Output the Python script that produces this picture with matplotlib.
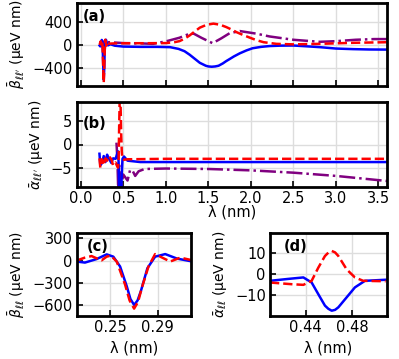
import matplotlib
matplotlib.use("Agg")
import matplotlib.pyplot as plt

# panel (a): beta vs lambda, wide range
lam_a_blue = [0.2218, 0.2289, 0.2388, 0.2472, 0.2528, 0.2585, 0.2641, 0.2703, 0.2760, 0.2815,
              0.288, 0.2965, 0.3064, 0.32, 0.35, 0.4, 0.5, 0.7, 0.9, 1.05, 1.15, 1.22, 1.28,
              1.34, 1.4, 1.47, 1.5, 1.54, 1.58, 1.62, 1.67, 1.71, 1.75, 1.8, 1.87, 1.95,
              2.02, 2.12, 2.22, 2.35, 2.5, 2.65, 2.81, 3.0, 3.2, 3.39, 3.6]
beta_a_blue = [-13, -27, 21, 84, 53, -80, -347, -600, -413, -103,
               53, 88, 27, -9, 10, -15, -30, -35, -35, -40, -70, -110, -170,
               -240, -310, -360, -372, -377, -372, -360, -320, -280, -245, -200, -146, -95,
               -59, -35, -21, -14, -12, -25, -40, -64, -74, -80, -82]
lam_a_red = [0.2218, 0.2289, 0.2345, 0.2401, 0.243, 0.2472, 0.2506, 0.2557, 0.2627, 0.2703,
             0.2768, 0.2824, 0.288, 0.2951, 0.3007, 0.3092, 0.32, 0.4, 0.6, 0.8, 1.0, 1.1,
             1.16, 1.22, 1.28, 1.34, 1.4, 1.48, 1.56, 1.64, 1.71, 1.77, 1.83, 1.91, 1.99,
             2.07, 2.15, 2.3, 2.5, 2.81, 3.2, 3.6]
beta_a_red = [0, 40, 61, 21, 4, 53, 67, -13, -325, -650,
              -369, -80, 88, 31, -13, 40, 20, 25, 28, 28, 30, 45,
              63, 105, 162, 230, 296, 345, 365, 345, 306, 265, 219, 168, 122,
              78, 45, 17, 8, 17, 35, 45]
lam_a_purple = [0.225, 0.24, 0.25, 0.26, 0.27, 0.28, 0.29, 0.31, 0.34, 0.5, 0.7, 0.85, 1.01,
                1.16, 1.28, 1.33, 1.42, 1.55, 1.65, 1.75, 1.87, 2.07, 2.22, 2.5, 2.81, 3.0,
                3.23, 3.45, 3.6]
beta_a_purple = [30, 55, 10, 60, -10, 50, 20, 45, 45, 30, 25, 17, 63,
                 122, 191, 191, 120, 28, 110, 200, 237, 191, 144, 87, 52, 63,
                 87, 99, 99]

# panel (b): alpha vs lambda, wide range
lam_b_blue = [0.22, 0.23, 0.25, 0.27, 0.29, 0.31, 0.33, 0.36, 0.38, 0.4094, 0.425, 0.438,
              0.4451, 0.4508, 0.4565, 0.4594, 0.4623, 0.4652, 0.468, 0.4751, 0.4822, 0.4908,
              0.5085, 0.55, 0.7, 1.0, 2.0, 3.0, 3.6]
alpha_b_blue = [-2.0, -4.5, -4.0, -2.5, -3.8, -2.2, -3.0, -4.0, -3.0, -3.1, -2.2, -1.5,
                -3.9, -9.4, -14.8, -16.3, -17.2, -16.8, -15.6, -10.9, -6.2, -3.1,
                -2.6, -3.5, -3.8, -3.8, -3.8, -3.8, -3.8]
lam_b_red = [0.22, 0.23, 0.25, 0.27, 0.29, 0.31, 0.33, 0.36, 0.38, 0.4094, 0.428, 0.438,
             0.4451, 0.4508, 0.4565, 0.4594, 0.4623, 0.4652, 0.468, 0.4751, 0.4822, 0.4893,
             0.5085, 0.55, 1.0, 2.0, 3.0, 3.6]
alpha_b_red = [-3.0, -5.0, -3.2, -4.5, -3.0, -3.5, -2.5, -3.2, -4.5, -3.9, -4.7, -5.0,
               -3.1, 3.1, 8.6, 10.2, 11.0, 10.3, 8.6, 2.3, -1.5, -3.1,
               -3.3, -3.2, -3.1, -3.1, -3.1, -3.1]
lam_b_purple = [0.42, 0.43, 0.44, 0.45, 0.47, 0.5, 0.55, 0.58, 0.61, 0.64, 0.68, 0.75,
                1.0, 1.5, 2.0, 2.5, 3.0, 3.6]
alpha_b_purple = [0.4, -3.0, -9.5, -4.0, -9.5, -6.5, -7.8, -5.5, -5.7, -6.8, -5.8, -5.3,
                  -5.2, -5.3, -5.6, -6.1, -6.8, -7.9]

# panel (c): zoom of beta near 0.27 nm
lam_c_blue = [0.2218, 0.2289, 0.2388, 0.2472, 0.2528, 0.2585, 0.2641, 0.2672, 0.2703, 0.2732,
              0.2760, 0.2815, 0.288, 0.2965, 0.3064, 0.3182]
beta_c_blue = [-13, -27, 21, 84, 53, -80, -347, -520, -600, -540, -413, -103, 53, 88, 27, -9]
lam_c_red = [0.2218, 0.2289, 0.2345, 0.2401, 0.243, 0.2472, 0.2506, 0.2557, 0.2627, 0.2665,
             0.2703, 0.2736, 0.2768, 0.2824, 0.288, 0.2951, 0.3007, 0.3092, 0.3182]
beta_c_red = [0, 40, 61, 21, 4, 53, 67, -13, -325, -540, -650, -560,
              -369, -80, 88, 31, -13, 40, 8]

# panel (d): zoom of alpha near 0.46 nm
lam_d_blue = [0.4094, 0.425, 0.438, 0.4451, 0.4508, 0.4565, 0.4594, 0.4623, 0.4652, 0.468,
              0.4751, 0.4822, 0.4908, 0.5085]
alpha_d_blue = [-3.1, -2.2, -1.5, -3.9, -9.4, -14.8, -16.3, -17.2, -16.8, -15.6, -10.9,
                -6.2, -3.1, -2.6]
lam_d_red = [0.4094, 0.428, 0.438, 0.4451, 0.4508, 0.4565, 0.4594, 0.4623, 0.4652, 0.468,
             0.4751, 0.4822, 0.4893, 0.5085]
alpha_d_red = [-3.9, -4.7, -5.0, -3.1, 3.1, 8.6, 10.2, 11.0, 10.3, 8.6, 2.3, -1.5, -3.1, -3.3]

plt.rcParams['font.size'] = 10.5
plt.rcParams['axes.linewidth'] = 2.0

fig = plt.figure(figsize=(3.99, 3.59), dpi=100)

W, H = 399.0, 359.0


def box(left, top, right, bottom):
    return [left / W, 1 - bottom / H, (right - left) / W, (bottom - top) / H]


ax_a = fig.add_axes(box(76.5, 3, 387, 85.5))
ax_b = fig.add_axes(box(76.5, 102, 387, 187))
ax_c = fig.add_axes(box(76.5, 232.5, 191, 316))
ax_d = fig.add_axes(box(270, 232.5, 387, 316))

lw = 1.8

ax_a.plot(lam_a_purple, beta_a_purple, color='purple', linestyle='-.', lw=lw)
ax_a.plot(lam_a_blue, beta_a_blue, color='blue', linestyle='-', lw=lw)
ax_a.plot(lam_a_red, beta_a_red, color='red', linestyle='--', lw=lw)

ax_b.plot(lam_b_purple, alpha_b_purple, color='purple', linestyle='-.', lw=lw)
ax_b.plot(lam_b_blue, alpha_b_blue, color='blue', linestyle='-', lw=lw)
ax_b.plot(lam_b_red, alpha_b_red, color='red', linestyle='--', lw=lw)

ax_c.plot(lam_c_blue, beta_c_blue, color='blue', linestyle='-', lw=lw)
ax_c.plot(lam_c_red, beta_c_red, color='red', linestyle='--', lw=lw)

ax_d.plot(lam_d_blue, alpha_d_blue, color='blue', linestyle='-', lw=lw)
ax_d.plot(lam_d_red, alpha_d_red, color='red', linestyle='--', lw=lw)

for ax in (ax_a, ax_b):
    ax.set_xlim(-0.05, 3.6)
    ax.set_xticks([0.0, 0.5, 1.0, 1.5, 2.0, 2.5, 3.0, 3.5])
ax_a.set_xticklabels([])
ax_a.set_ylim(-700, 720)
ax_a.set_yticks([-400, 0, 400])
ax_b.set_ylim(-9.2, 9.2)
ax_b.set_yticks([-5, 0, 5])

ax_c.set_xlim(0.2218, 0.3182)
ax_c.set_xticks([0.25, 0.29])
ax_c.set_xticklabels(['0.25', '0.29'])
ax_c.set_ylim(-750, 380)
ax_c.set_yticks([-600, -300, 0, 300])

ax_d.set_xlim(0.4094, 0.5097)
ax_d.set_xticks([0.44, 0.48])
ax_d.set_xticklabels(['0.44', '0.48'])
ax_d.set_ylim(-19.7, 19.7)
ax_d.set_yticks([-10, 0, 10])

for ax in (ax_a, ax_b, ax_c, ax_d):
    ax.grid(True, color='#dddddd', lw=1.0)
    ax.set_axisbelow(True)
    ax.tick_params(direction='in', length=4, width=1.2, pad=3)

ylab = 10
ax_a.set_ylabel(r"$\bar{\beta}_{\ell\ell'}$ (μeV nm)", fontsize=ylab)
ax_b.set_ylabel(r"$\bar{\alpha}_{\ell\ell'}$ (μeV nm)", fontsize=ylab)
ax_c.set_ylabel(r"$\bar{\beta}_{\ell\ell}$ (μeV nm)", fontsize=ylab)
ax_d.set_ylabel(r"$\bar{\alpha}_{\ell\ell}$ (μeV nm)", fontsize=ylab)
ax_b.set_xlabel("λ (nm)", labelpad=-1)
ax_c.set_xlabel("λ (nm)")
ax_d.set_xlabel("λ (nm)")

ax_a.text(0.02, 0.835, "(a)", transform=ax_a.transAxes, fontweight='bold', va='center')
ax_b.text(0.02, 0.747, "(b)", transform=ax_b.transAxes, fontweight='bold', va='center')
ax_c.text(0.093, 0.83, "(c)", transform=ax_c.transAxes, fontweight='bold', va='center')
ax_d.text(0.114, 0.83, "(d)", transform=ax_d.transAxes, fontweight='bold', va='center')

fig.savefig("out.png", dpi=100)
